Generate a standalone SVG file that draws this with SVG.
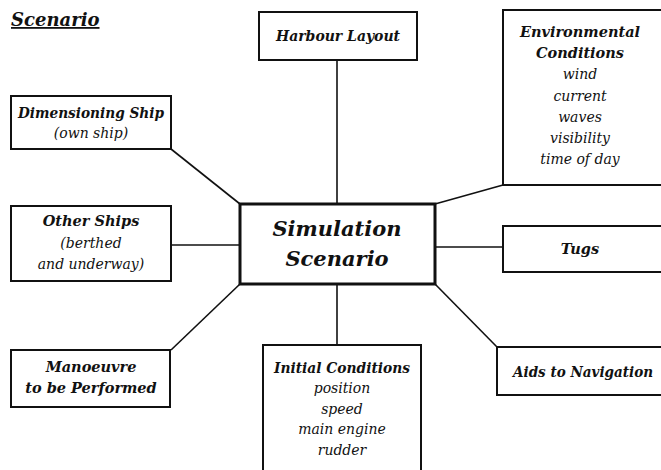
<svg xmlns="http://www.w3.org/2000/svg" width="661" height="470" viewBox="0 0 661 470">
<style>
.box{fill:#fff;stroke:#111;stroke-width:2}
.main{fill:#fff;stroke:#111;stroke-width:3}
.c{stroke:#111;stroke-width:1.6;fill:none}
</style>
<rect width="661" height="470" fill="#fff"/>
<g font-family="DejaVu Serif" fill="#111" font-style="italic" font-weight="bold">
<text x="11" y="26" font-size="18" text-decoration="underline">Scenario</text>
</g>
<g id="connectors">
<line class="c" x1="337" y1="60" x2="337" y2="204"/>
<line class="c" x1="171" y1="149" x2="240" y2="204"/>
<line class="c" x1="171" y1="245" x2="240" y2="245"/>
<line class="c" x1="171" y1="350" x2="240" y2="284"/>
<line class="c" x1="337" y1="284" x2="337" y2="345"/>
<line class="c" x1="435" y1="284" x2="497" y2="347"/>
<line class="c" x1="435" y1="247" x2="503" y2="247"/>
<line class="c" x1="435" y1="204" x2="503" y2="185"/>
</g>
<g id="harbour" font-family="DejaVu Serif" fill="#111" text-anchor="middle" font-style="italic">
<rect class="box" x="259" y="12" width="158" height="48"/>
<text x="338" y="41" font-size="14.5" font-weight="bold" textLength="124" lengthAdjust="spacingAndGlyphs">Harbour Layout</text>
</g>
<g id="environment" font-family="DejaVu Serif" fill="#111" text-anchor="middle" font-style="italic" font-size="14">
<rect class="box" x="503" y="10" width="170" height="175"/>
<text x="580" y="37" font-size="14.5" font-weight="bold">Environmental</text>
<text x="580" y="58" font-size="14.5" font-weight="bold">Conditions</text>
<text x="580" y="79">wind</text>
<text x="580" y="101">current</text>
<text x="580" y="122">waves</text>
<text x="580" y="143">visibility</text>
<text x="580" y="164">time of day</text>
</g>
<g id="dimensioning" font-family="DejaVu Serif" fill="#111" text-anchor="middle" font-style="italic" font-size="14">
<rect class="box" x="11" y="96" width="160" height="53"/>
<text x="91" y="118" font-size="14.5" font-weight="bold" textLength="146" lengthAdjust="spacingAndGlyphs">Dimensioning Ship</text>
<text x="91" y="138">(own ship)</text>
</g>
<g id="other" font-family="DejaVu Serif" fill="#111" text-anchor="middle" font-style="italic" font-size="14">
<rect class="box" x="11" y="206" width="160" height="75"/>
<text x="91" y="226" font-size="14.5" font-weight="bold">Other Ships</text>
<text x="91" y="248">(berthed</text>
<text x="91" y="269">and underway)</text>
</g>
<g id="center" font-family="DejaVu Serif" fill="#111" text-anchor="middle" font-style="italic" font-weight="bold">
<rect class="main" x="240" y="204" width="195" height="80"/>
<text x="337" y="236" font-size="21">Simulation</text>
<text x="337" y="266" font-size="21">Scenario</text>
</g>
<g id="tugs" font-family="DejaVu Serif" fill="#111" text-anchor="middle" font-style="italic" font-weight="bold">
<rect class="box" x="503" y="226" width="170" height="46"/>
<text x="580" y="254" font-size="14.5">Tugs</text>
</g>
<g id="manoeuvre" font-family="DejaVu Serif" fill="#111" text-anchor="middle" font-style="italic" font-weight="bold">
<rect class="box" x="11" y="350" width="159" height="57"/>
<text x="91" y="372" font-size="14.5">Manoeuvre</text>
<text x="91" y="393" font-size="14.5">to be Performed</text>
</g>
<g id="initial" font-family="DejaVu Serif" fill="#111" text-anchor="middle" font-style="italic" font-size="14">
<rect class="box" x="263" y="345" width="158" height="135"/>
<text x="342" y="373" font-size="14.5" font-weight="bold" textLength="136" lengthAdjust="spacingAndGlyphs">Initial Conditions</text>
<text x="342" y="393">position</text>
<text x="342" y="414">speed</text>
<text x="342" y="434">main engine</text>
<text x="342" y="455">rudder</text>
</g>
<g id="aids" font-family="DejaVu Serif" fill="#111" text-anchor="middle" font-style="italic" font-weight="bold">
<rect class="box" x="497" y="347" width="176" height="48"/>
<text x="583" y="377" font-size="14.5" textLength="140" lengthAdjust="spacingAndGlyphs">Aids to Navigation</text>
</g>
</svg>
